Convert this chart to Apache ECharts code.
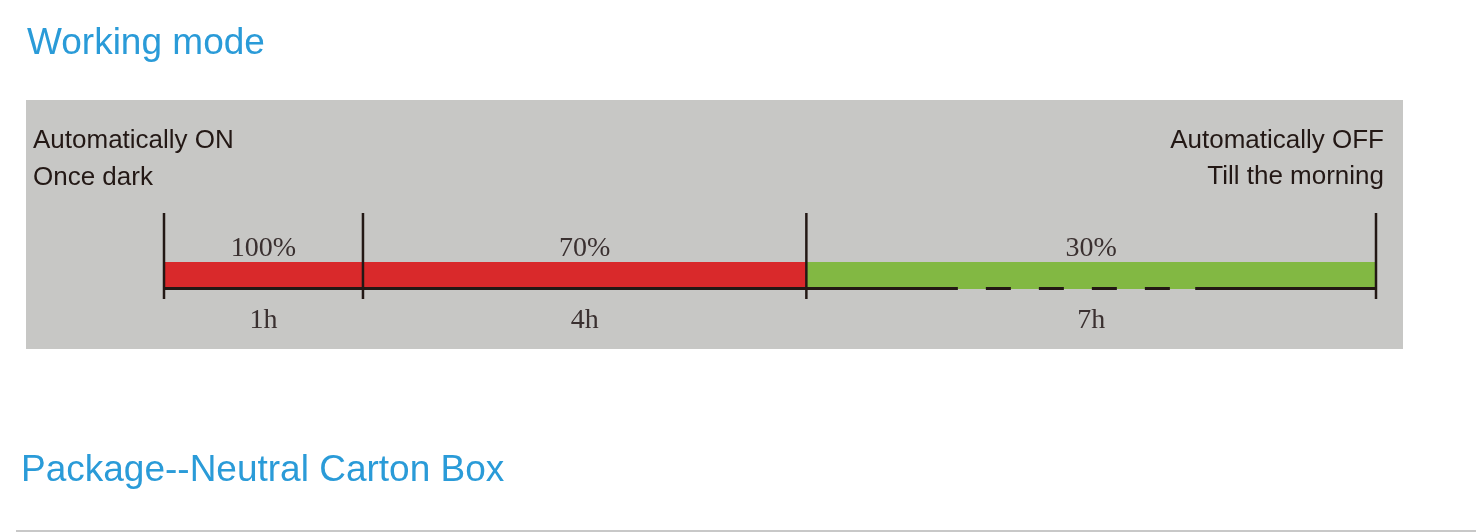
<!DOCTYPE html>
<html>
<head>
<meta charset="utf-8">
<script src="https://cdn.jsdelivr.net/npm/echarts@6/dist/echarts.min.js"></script>
<style>
  html, body { margin: 0; padding: 0; background: #ffffff; }
  #chart { width: 1483px; height: 532px; }
</style>
</head>
<body>
<div id="chart"></div>
<script>
// ---- data ----
const brightnessLabels = ['100%', '70%', '30%'];
const hourLabels = ['1h', '4h', '7h'];
// drawn length of each stage on the schematic timeline (hour-like units, total 12)
const stageSpans = [1.97, 4.39, 5.64];
// stretch of the baseline drawn dashed (same units)
const dashedStretch = [7.86, 10.21];
const titleTop = 'Working mode';
const titleBottom = 'Package--Neutral Carton Box';
const startNote = ['Automatically ON', 'Once dark'];
const endNote = ['Automatically OFF', 'Till the morning'];

// ---- build ----
const total = stageSpans.reduce((a, b) => a + b, 0);
const stageColors = ['#d9292b', '#d9292b', '#82b843'];
const ink = '#231815';
const blue = '#2a9bd8';
const noteFont = '26px "Liberation Sans"';

const stageData = [];
let acc = 0;
stageSpans.forEach((s, i) => {
  stageData.push([acc, acc + s, i]);
  acc += s;
});
const boundaries = [0];
stageData.forEach(d => boundaries.push(d[1]));

const chart = echarts.init(document.getElementById('chart'), null, { renderer: 'canvas' });

const noteTexts = [];
startNote.forEach((t, i) => noteTexts.push({
  type: 'text', silent: true,
  style: { x: 33, y: 141 + i * 37, text: t, fill: ink, font: noteFont, align: 'left', verticalAlign: 'middle' }
}));
endNote.forEach((t, i) => noteTexts.push({
  type: 'text', silent: true,
  style: { x: 1384, y: 141 + i * 36, text: t, fill: ink, font: noteFont, align: 'right', verticalAlign: 'middle' }
}));

const option = {
  backgroundColor: '#ffffff',
  animation: false,
  title: [
    { text: titleTop, left: 22, top: 20, textStyle: { color: blue, fontSize: 37, fontWeight: 'normal', fontFamily: 'Liberation Sans' } },
    { text: titleBottom, left: 16, top: 447, textStyle: { color: blue, fontSize: 37, fontWeight: 'normal', fontFamily: 'Liberation Sans' } }
  ],
  graphic: [
    { type: 'rect', z: -10, silent: true, shape: { x: 26, y: 100, width: 1377, height: 249 }, style: { fill: '#c7c7c5' } },
    { type: 'line', silent: true, shape: { x1: 16, y1: 531, x2: 1476, y2: 531 }, style: { stroke: '#c8c8c8', lineWidth: 2 } }
  ].concat(noteTexts),
  grid: { left: 164, right: 107, top: 262, height: 26 },
  xAxis: { type: 'value', min: 0, max: total, show: false },
  yAxis: { type: 'value', min: 0, max: 1, show: false },
  series: [
    {
      type: 'custom',
      name: 'stages',
      data: stageData,
      encode: { x: [0, 1] },
      renderItem: function (params, api) {
        const i = api.value(2);
        const p0 = api.coord([api.value(0), 1]);
        const p1 = api.coord([api.value(1), 0]);
        const mid = (p0[0] + p1[0]) / 2;
        return {
          type: 'group',
          children: [
            { type: 'rect', shape: { x: p0[0], y: p0[1], width: p1[0] - p0[0], height: p1[1] - p0[1] + 1 }, style: { fill: stageColors[i] } },
            { type: 'text', style: { x: mid, y: p0[1] - 13, text: brightnessLabels[i], fill: '#3a3030', font: '28px "Liberation Serif"', align: 'center', verticalAlign: 'middle' } },
            { type: 'text', style: { x: mid, y: p1[1] + 33, text: hourLabels[i], fill: '#3a3030', font: '28px "Liberation Serif"', align: 'center', verticalAlign: 'middle' } }
          ]
        };
      },
      z: 2
    },
    {
      type: 'custom',
      name: 'baseline',
      data: [[0, dashedStretch[0], dashedStretch[1], total]],
      encode: { x: [0, 3] },
      renderItem: function (params, api) {
        const a = api.coord([api.value(0), 0]);
        const b = api.coord([api.value(1), 0]);
        const c = api.coord([api.value(2), 0]);
        const d = api.coord([api.value(3), 0]);
        const y = a[1] + 0.5;
        return {
          type: 'group',
          children: [
            { type: 'line', shape: { x1: a[0], y1: y, x2: b[0], y2: y }, style: { stroke: ink, lineWidth: 3 } },
            { type: 'line', shape: { x1: b[0], y1: y, x2: c[0], y2: y }, style: { stroke: ink, lineWidth: 3, lineDash: [25, 28], lineDashOffset: 25 } },
            { type: 'line', shape: { x1: c[0], y1: y, x2: d[0], y2: y }, style: { stroke: ink, lineWidth: 3 } }
          ]
        };
      },
      z: 3
    },
    {
      type: 'custom',
      name: 'dividers',
      data: boundaries.map(b => [b]),
      encode: { x: 0 },
      renderItem: function (params, api) {
        const top = api.coord([api.value(0), 1]);
        const bot = api.coord([api.value(0), 0]);
        return {
          type: 'line',
          shape: { x1: top[0], y1: top[1] - 49, x2: bot[0], y2: bot[1] + 11 },
          style: { stroke: ink, lineWidth: 2.5 }
        };
      },
      z: 4
    }
  ]
};
chart.setOption(option);
</script>
</body>
</html>
